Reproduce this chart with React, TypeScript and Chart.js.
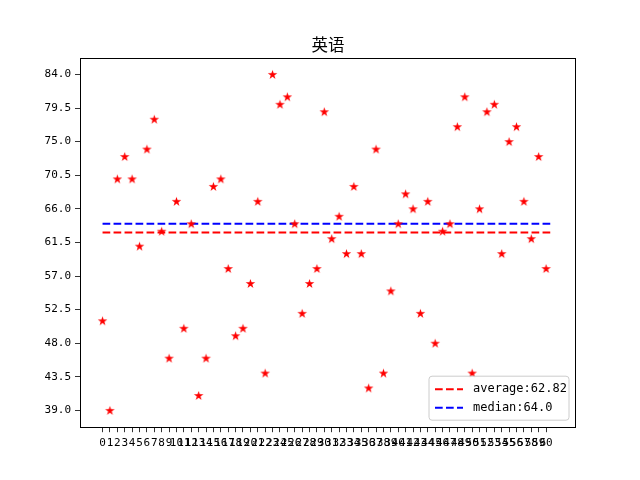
import React, { useEffect, useRef } from "react";
import { Chart, registerables } from "chart.js";

Chart.register(...registerables);

const title = "英语";
const scores: number[] = [
  51, 39, 70, 73, 70, 61, 74, 78, 63, 46,
  67, 50, 64, 41, 46, 69, 70, 58, 49, 50,
  56, 67, 44, 84, 80, 81, 64, 52, 56, 58,
  79, 62, 65, 60, 69, 60, 42, 74, 44, 55,
  64, 68, 66, 52, 67, 48, 63, 64, 77, 81,
  44, 66, 79, 80, 60, 75, 77, 67, 62, 73, 58,
];
const xTickLabels: number[] = scores.map((_, i) => i);
const yTickLabels: number[] = [39.0, 43.5, 48.0, 52.5, 57.0, 61.5, 66.0, 70.5, 75.0, 79.5, 84.0];

const avg = scores.reduce((a, b) => a + b, 0) / scores.length;
const sorted = [...scores].sort((a, b) => a - b);
const med =
  sorted.length % 2
    ? sorted[(sorted.length - 1) / 2]
    : (sorted[sorted.length / 2 - 1] + sorted[sorted.length / 2]) / 2;
const avgLabel = `average:${(Math.round(avg * 100) / 100).toFixed(2)}`;
const medLabel = `median:${Number.isInteger(med) ? med.toFixed(1) : String(med)}`;

const DASH = [7.7, 3.3];

function makeStar(): HTMLCanvasElement {
  const c = document.createElement("canvas");
  const s = 11;
  c.width = s;
  c.height = s;
  const ctx = c.getContext("2d")!;
  const cx = s / 2, cy = s / 2 + 0.4;
  const R = 5, r = R * 0.382;
  ctx.beginPath();
  for (let i = 0; i < 10; i++) {
    const rad = i % 2 === 0 ? R : r;
    const a = -Math.PI / 2 + (i * Math.PI) / 5;
    const px = cx + rad * Math.cos(a);
    const py = cy + rad * Math.sin(a);
    if (i === 0) ctx.moveTo(px, py);
    else ctx.lineTo(px, py);
  }
  ctx.closePath();
  ctx.fillStyle = "#ff0000";
  ctx.fill();
  return c;
}

const MONO = "'DejaVu Sans Mono', 'Liberation Mono', monospace";

export default function App() {
  const ref = useRef<HTMLCanvasElement>(null);
  useEffect(() => {
    if (!ref.current) return;
    const n = scores.length;
    const xMargin = 0.05 * n;
    const yMin = Math.min(...scores), yMax = Math.max(...scores);
    const yMargin = 0.05 * (yMax - yMin);
    const star = makeStar();

    const framePlugin = {
      id: "frame",
      afterDraw(chart: any) {
        const { ctx, chartArea: a } = chart;
        ctx.save();
        ctx.strokeStyle = "#000";
        ctx.lineWidth = 1;
        ctx.strokeRect(Math.round(a.left) + 0.5, Math.round(a.top) + 0.5, Math.round(a.right - a.left) - 1, Math.round(a.bottom - a.top) - 1);
        // title
        ctx.fillStyle = "#000";
        ctx.font = "16.5px 'Noto Sans CJK SC', sans-serif";
        ctx.textAlign = "center";
        ctx.textBaseline = "alphabetic";
        ctx.fillText(title, (a.left + a.right) / 2, a.top - 7);
        // legend
        const bx = a.right - 147, by = a.bottom - 51, bw = 140, bh = 44, rr = 3;
        ctx.beginPath();
        ctx.moveTo(bx + rr, by);
        ctx.lineTo(bx + bw - rr, by);
        ctx.arcTo(bx + bw, by, bx + bw, by + rr, rr);
        ctx.lineTo(bx + bw, by + bh - rr);
        ctx.arcTo(bx + bw, by + bh, bx + bw - rr, by + bh, rr);
        ctx.lineTo(bx + rr, by + bh);
        ctx.arcTo(bx, by + bh, bx, by + bh - rr, rr);
        ctx.lineTo(bx, by + rr);
        ctx.arcTo(bx, by, bx + rr, by, rr);
        ctx.closePath();
        ctx.fillStyle = "rgba(255,255,255,0.8)";
        ctx.fill();
        ctx.strokeStyle = "#cccccc";
        ctx.lineWidth = 1;
        ctx.stroke();
        const items = [
          { label: avgLabel, color: "#ff0000" },
          { label: medLabel, color: "#0000ff" },
        ];
        ctx.font = `12px ${MONO}`;
        ctx.textAlign = "left";
        ctx.textBaseline = "middle";
        items.forEach((it, i) => {
          const yy = by + 13 + i * 18.6;
          ctx.beginPath();
          ctx.setLineDash(DASH);
          ctx.strokeStyle = it.color;
          ctx.lineWidth = 2;
          ctx.moveTo(bx + 6, yy);
          ctx.lineTo(bx + 34, yy);
          ctx.stroke();
          ctx.setLineDash([]);
          ctx.fillStyle = "#000";
          ctx.fillText(it.label, bx + 44, yy);
        });
        ctx.restore();
      },
    };

    const chart = new Chart(ref.current, {
      type: "scatter",
      data: {
        datasets: [
          {
            label: "scores",
            data: scores.map((v, i) => ({ x: i, y: v })),
            pointStyle: star as any,
            pointRadius: 5,
            backgroundColor: "#ff0000",
            borderColor: "#ff0000",
            order: 1,
          },
          {
            type: "line",
            label: avgLabel,
            data: [{ x: 0, y: avg }, { x: n, y: avg }],
            borderColor: "#ff0000",
            borderWidth: 2,
            borderDash: DASH,
            pointRadius: 0,
            fill: false,
            order: 2,
          } as any,
          {
            type: "line",
            label: medLabel,
            data: [{ x: 0, y: med }, { x: n, y: med }],
            borderColor: "#0000ff",
            borderWidth: 2,
            borderDash: DASH,
            pointRadius: 0,
            fill: false,
            order: 2,
          } as any,
        ],
      },
      options: {
        animation: false,
        responsive: false,
        layout: { padding: { left: 0, right: 64, top: 57.6, bottom: 0 } },
        plugins: {
          legend: { display: false },
          title: { display: false },
          tooltip: { enabled: false },
        },
        scales: {
          x: {
            type: "linear",
            min: -xMargin,
            max: n + xMargin,
            afterBuildTicks: (s: any) => {
              s.ticks = xTickLabels.map((v) => ({ value: v }));
            },
            afterFit: (s: any) => {
              s.height = 52.8;
            },
            ticks: {
              autoSkip: false,
              maxRotation: 0,
              minRotation: 0,
              padding: 4,
              color: "#000",
              font: { family: MONO, size: 11 },
              callback: (v: any) => String(v),
            },
            grid: { display: true, drawOnChartArea: false, drawTicks: true, tickLength: 5, color: "#000", lineWidth: 0.8 },
            border: { display: false },
          },
          y: {
            type: "linear",
            min: yMin - yMargin,
            max: yMax + yMargin,
            afterBuildTicks: (s: any) => {
              s.ticks = yTickLabels.map((v) => ({ value: v }));
            },
            afterFit: (s: any) => {
              s.width = 80;
            },
            ticks: {
              padding: 4,
              color: "#000",
              font: { family: MONO, size: 11 },
              callback: (v: any) => Number(v).toFixed(1),
            },
            grid: { display: true, drawOnChartArea: false, drawTicks: true, tickLength: 5, color: "#000", lineWidth: 0.8 },
            border: { display: false },
          },
        },
      },
      plugins: [framePlugin],
    });
    return () => chart.destroy();
  }, []);
  return (
    <div style={{ position: "fixed", left: 0, top: 0, width: 640, height: 480, background: "#fff" }}>
      <canvas ref={ref} width={640} height={480} style={{ width: 640, height: 480 }} />
    </div>
  );
}
